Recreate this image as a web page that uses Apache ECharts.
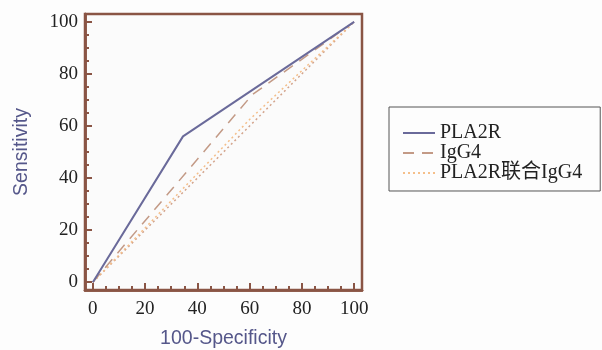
<!DOCTYPE html>
<html>
<head>
<meta charset="utf-8">
<script src="https://cdn.jsdelivr.net/npm/echarts@6/dist/echarts.min.js"></script>
<style>
  html, body { margin: 0; padding: 0; background: #fdfdfd; }
  #roc { width: 602px; height: 350px; }
</style>
</head>
<body>
<div id="roc"></div>
<script>
// ROC curve points (x = 100-Specificity, y = Sensitivity)
const pla2rX = [0, 34.5, 100];
const pla2rY = [0, 56, 100];
const igg4X = [0, 61, 100];
const igg4Y = [0, 72, 100];
const comboX = [0, 60, 100];
const comboY = [0, 62.5, 100];
// chance diagonal
const refX = [0, 100];
const refY = [0, 100];

const majorTicks = [0, 20, 40, 60, 80, 100];
const minorTicks = [0, 5, 10, 15, 20, 25, 30, 35, 40, 45, 50, 55, 60, 65, 70, 75, 80, 85, 90, 95, 100];

const names = ['PLA2R', 'IgG4', 'PLA2R联合IgG4'];
const frameColor = '#8a5545';

function toPairs(xs, ys) {
  let out = [];
  for (let i = 0; i < xs.length; i++) {
    out.push([xs[i], ys[i]]);
  }
  return out;
}

function makeAxis(opts) {
  return Object.assign({
    type: 'value',
    min: -3,
    max: 103,
    splitLine: { show: false },
    axisLine: { show: true, onZero: false, lineStyle: { color: frameColor, width: 2.5 } },
  }, opts);
}

function ticks(values, len) {
  return { show: true, inside: true, length: len, customValues: values, lineStyle: { color: frameColor, width: 2 } };
}

const labelStyle = {
  fontFamily: 'Liberation Serif',
  fontSize: 19,
  color: '#222',
};

const nameStyle = {
  fontFamily: 'Liberation Sans',
  fontSize: 19.5,
  color: '#55578a',
};

const chart = echarts.init(document.getElementById('roc'));
chart.setOption({
  backgroundColor: '#fdfdfd',
  animation: false,
  grid: {
    left: 85, right: 240, top: 14, bottom: 60,
    outerBoundsMode: 'none',
    show: true,
    backgroundColor: '#fbfbfb',
    borderColor: frameColor,
    borderWidth: 2.5,
  },
  legend: {
    orient: 'vertical',
    left: 389,
    top: 107,
    data: names,
    borderColor: '#555',
    borderWidth: 1,
    padding: [16, 18, 8, 13],
    itemWidth: 32,
    itemHeight: 10,
    itemGap: 0,
    itemStyle: { opacity: 0 },
    textStyle: { fontFamily: 'Liberation Serif, Noto Sans CJK SC', fontSize: 20, color: '#222' },
  },
  xAxis: [
    makeAxis({
      position: 'bottom',
      name: '100-Specificity',
      nameLocation: 'middle',
      nameGap: 39,
      nameTextStyle: nameStyle,
      axisTick: ticks(majorTicks, 7),
      axisLabel: Object.assign({ customValues: majorTicks, margin: 10 }, labelStyle),
    }),
    makeAxis({
      position: 'bottom',
      axisTick: ticks(minorTicks, 4),
      axisLabel: { show: false },
    }),
  ],
  yAxis: [
    makeAxis({
      position: 'left',
      name: 'Sensitivity',
      nameLocation: 'middle',
      nameGap: 53,
      nameTextStyle: nameStyle,
      axisTick: ticks(majorTicks, 7),
      axisLabel: Object.assign({ customValues: majorTicks, margin: 7 }, labelStyle),
    }),
    makeAxis({
      position: 'left',
      axisTick: ticks(minorTicks, 4),
      axisLabel: { show: false },
    }),
  ],
  series: [
    {
      name: 'reference',
      type: 'line',
      symbol: 'none',
      data: toPairs(refX, refY),
      lineStyle: { color: '#d3a48c', width: 1.5, type: [2, 3] },
      z: 1,
    },
    {
      name: names[2],
      type: 'line',
      symbol: 'none',
      data: toPairs(comboX, comboY),
      lineStyle: { color: '#f5bf8a', width: 1.5, type: [2, 3] },
      itemStyle: { color: '#f5bf8a' },
      z: 2,
    },
    {
      name: names[1],
      type: 'line',
      symbol: 'none',
      data: toPairs(igg4X, igg4Y),
      lineStyle: { color: '#c39a86', width: 1.5, type: [11, 8] },
      itemStyle: { color: '#c39a86' },
      z: 3,
    },
    {
      name: names[0],
      type: 'line',
      symbol: 'none',
      data: toPairs(pla2rX, pla2rY),
      lineStyle: { color: '#6a6a9a', width: 2 },
      itemStyle: { color: '#6a6a9a' },
      z: 4,
    },
  ],
});
</script>
</body>
</html>
